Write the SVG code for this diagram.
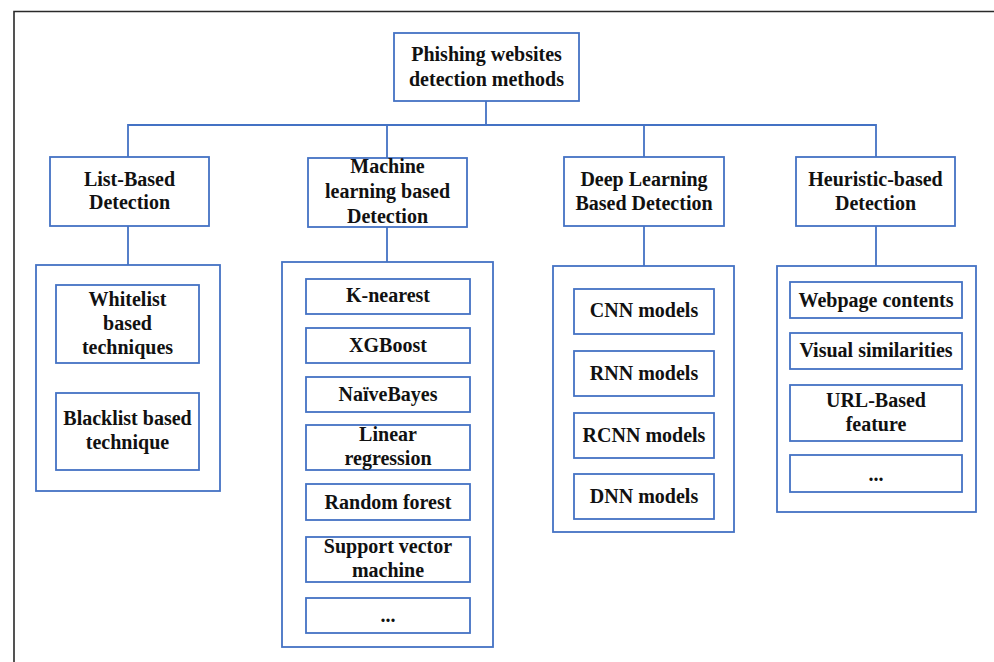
<svg xmlns="http://www.w3.org/2000/svg" width="994" height="662" viewBox="0 0 994 662">
<style>
.b{fill:#fff;stroke:#4472C4;stroke-width:1.8}
.c{fill:none;stroke:#4472C4;stroke-width:1.8}
text{font-family:"Liberation Serif","Times New Roman",serif;font-weight:bold;font-size:20px;fill:#111;text-anchor:middle}
</style>
<rect width="994" height="662" fill="#fff"/>
<path d="M14 662 V11.5 H994" fill="none" stroke="#2a2a2a" stroke-width="1.6"/>
<g id="connectors">
<path class="c" d="M486 101 V125 M128 157 V125 H876 V157 M387 125 V158 M644 125 V157"/>
<path class="c" d="M128 226 V265 M387 227 V262 M644 226 V266 M876 226 V266"/>
</g>
<g id="root"><rect class="b" x="394" y="33" width="185" height="68"/><text x="486.5" y="61">Phishing websites</text><text x="486.5" y="86">detection methods</text></g>
<g id="list"><rect class="b" x="50" y="157" width="159" height="69"/><text x="129.5" y="186">List-Based</text><text x="129.5" y="209">Detection</text></g>
<g id="ml"><rect class="b" x="308" y="158" width="159" height="69"/><text x="387.5" y="173">Machine</text><text x="387.5" y="198">learning based</text><text x="387.5" y="223">Detection</text></g>
<g id="dl"><rect class="b" x="564" y="157" width="160" height="69"/><text x="644" y="186">Deep Learning</text><text x="644" y="210">Based Detection</text></g>
<g id="heur"><rect class="b" x="796" y="157" width="159" height="69"/><text x="875.5" y="186">Heuristic-based</text><text x="875.5" y="210">Detection</text></g>
<g id="list-group"><rect class="b" x="36" y="265" width="184" height="226"/>
<g id="whitelist"><rect class="b" x="56" y="285" width="143" height="78"/><text x="127.5" y="306">Whitelist</text><text x="127.5" y="330">based</text><text x="127.5" y="354">techniques</text></g>
<g id="blacklist"><rect class="b" x="56" y="393" width="143" height="77"/><text x="127.5" y="425">Blacklist based</text><text x="127.5" y="449">technique</text></g>
</g>
<g id="ml-group"><rect class="b" x="282" y="262" width="211" height="385"/>
<g id="knn"><rect class="b" x="306" y="279" width="164" height="35"/><text x="388" y="302">K-nearest</text></g>
<g id="xgb"><rect class="b" x="306" y="328" width="164" height="35"/><text x="388" y="352">XGBoost</text></g>
<g id="nb"><rect class="b" x="306" y="377" width="164" height="35"/><text x="388" y="401">NaïveBayes</text></g>
<g id="lr"><rect class="b" x="306" y="425" width="164" height="45"/><text x="388" y="441">Linear</text><text x="388" y="465">regression</text></g>
<g id="rf"><rect class="b" x="306" y="484" width="164" height="36"/><text x="388" y="509">Random forest</text></g>
<g id="svm"><rect class="b" x="306" y="537" width="164" height="45"/><text x="388" y="553">Support vector</text><text x="388" y="577">machine</text></g>
<g id="ml-more"><rect class="b" x="306" y="598" width="164" height="35"/><text x="388" y="622">...</text></g>
</g>
<g id="dl-group"><rect class="b" x="553" y="266" width="181" height="266"/>
<g id="cnn"><rect class="b" x="574" y="289" width="140" height="45"/><text x="644" y="317">CNN models</text></g>
<g id="rnn"><rect class="b" x="574" y="351" width="140" height="45"/><text x="644" y="380">RNN models</text></g>
<g id="rcnn"><rect class="b" x="574" y="413" width="140" height="45"/><text x="644" y="442">RCNN models</text></g>
<g id="dnn"><rect class="b" x="574" y="474" width="140" height="45"/><text x="644" y="503">DNN models</text></g>
</g>
<g id="heur-group"><rect class="b" x="777" y="266" width="199" height="246"/>
<g id="webpage"><rect class="b" x="790" y="282" width="172" height="36"/><text x="876" y="307">Webpage contents</text></g>
<g id="visual"><rect class="b" x="790" y="333" width="172" height="36"/><text x="876" y="357">Visual similarities</text></g>
<g id="url"><rect class="b" x="790" y="385" width="172" height="56"/><text x="876" y="407">URL-Based</text><text x="876" y="431">feature</text></g>
<g id="heur-more"><rect class="b" x="790" y="455" width="172" height="37"/><text x="876" y="481">...</text></g>
</g>
</svg>
